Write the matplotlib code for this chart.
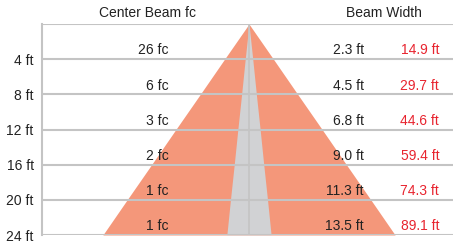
import matplotlib.pyplot as plt

plt.rcParams['font.family'] = ['Liberation Sans', 'DejaVu Sans']

distance_ft = [0, 4, 8, 12, 16, 20, 24]
center_fc = [26, 6, 3, 2, 1, 1]
beam_width = [0, 2.3, 4.5, 6.8, 9.0, 11.3, 13.5]
field_width = [0, 14.9, 29.7, 44.6, 59.4, 74.3, 89.1]
tick_labels = ['4 ft', '8 ft', '12 ft', '16 ft', '20 ft', '24 ft']

grid_col = '#c4c4c4'
text_col = '#222222'
red_col = '#e8242f'

fig = plt.figure(figsize=(4.53, 2.45), dpi=100)
ax = fig.add_axes([42 / 453, 10 / 245, 411 / 453, 211 / 245])

# outer field cone, then inner beam cone
ax.fill_betweenx(distance_ft, [-w / 2 for w in field_width], [w / 2 for w in field_width],
                 color='#f4977a', lw=0, zorder=1)
ax.fill_betweenx(distance_ft, [-w / 2 for w in beam_width], [w / 2 for w in beam_width],
                 color='#d1d2d4', lw=0, zorder=2)

ax.axvline(0, color=grid_col, lw=1.2, zorder=3)
for d in distance_ft:
    ax.axhline(d, color=grid_col, lw=1.5, zorder=3)

for i, d in enumerate(distance_ft[1:]):
    ax.text(-24.4, d - 1, f'{center_fc[i]} fc', ha='right', va='center', fontsize=10, color=text_col, zorder=4)
    ax.text(35, d - 1, f'{beam_width[i + 1]:.1f} ft', ha='right', va='center', fontsize=10, color=text_col, zorder=4)
    ax.text(58, d - 1, f'{field_width[i + 1]:.1f} ft', ha='right', va='center', fontsize=10, color=red_col, zorder=4)

ax.text(-31, -0.45, 'Center Beam fc', ha='center', va='bottom', fontsize=10, color=text_col)
ax.text(41, -0.45, 'Beam Width', ha='center', va='bottom', fontsize=10, color=text_col)

ax.set_xlim(-63.1, 62.2)
ax.set_ylim(24, 0)
ax.set_xticks([])
ax.set_yticks(distance_ft[1:])
ax.set_yticklabels(tick_labels, fontsize=10, color=text_col)
ax.tick_params(axis='y', length=0, pad=6)
for s in ['top', 'right', 'bottom']:
    ax.spines[s].set_visible(False)
ax.spines['left'].set_color(grid_col)
ax.spines['left'].set_linewidth(1.5)

fig.savefig('out.png', dpi=100)
